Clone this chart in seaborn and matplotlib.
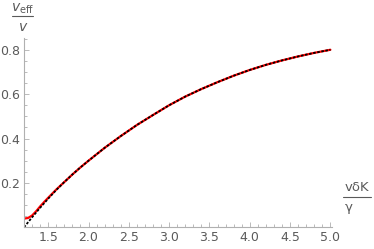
import numpy as np
import pandas as pd
import seaborn as sns
import matplotlib
matplotlib.use('Agg')
import matplotlib.pyplot as plt
from matplotlib.lines import Line2D
from matplotlib.ticker import MultipleLocator, FixedLocator

# values
x_approx = [1.2, 1.3, 1.4, 1.5, 1.6, 1.7, 1.8, 1.9, 2.0, 2.2, 2.4, 2.6, 2.8,
            3.0, 3.2, 3.4, 3.6, 3.8, 4.0, 4.2, 4.4, 4.6, 4.8, 5.0]
y_approx = [0.0, 0.045, 0.088, 0.129, 0.168, 0.204, 0.238, 0.27, 0.30, 0.358,
            0.411, 0.461, 0.506, 0.55, 0.589, 0.623, 0.654, 0.683, 0.709,
            0.732, 0.752, 0.770, 0.786, 0.80]

x_exact = [1.2, 1.25, 1.3, 1.35, 1.4, 1.45, 1.5, 1.6, 1.7, 1.8, 1.9, 2.0, 2.2,
           2.4, 2.6, 2.8, 3.0, 3.2, 3.4, 3.6, 3.8, 4.0, 4.2, 4.4, 4.6, 4.8, 5.0]
y_exact = [0.039, 0.042, 0.053, 0.072, 0.094, 0.114, 0.133, 0.170, 0.204, 0.238,
           0.27, 0.30, 0.358, 0.411, 0.461, 0.506, 0.55, 0.589, 0.623, 0.654,
           0.683, 0.709, 0.732, 0.752, 0.770, 0.786, 0.80]

df_exact = pd.DataFrame({'x': x_exact, 'y': y_exact})
df_approx = pd.DataFrame({'x': x_approx, 'y': y_approx})

sns.set_style('white')
plt.rcParams['font.family'] = ['DejaVu Sans']

W, H = 374, 249
fig = plt.figure(figsize=(W / 100, H / 100), dpi=100)
left, right, bottom, top = 24, 332, 227.3, 38
ax = fig.add_axes([left / W, 1 - bottom / H, (right - left) / W, (bottom - top) / H])

sns.lineplot(data=df_exact, x='x', y='y', color='red', lw=1.6, ax=ax)
sns.lineplot(data=df_approx, x='x', y='y', color='black', lw=1.3, ax=ax)
ax.lines[-1].set_linestyle((0, (1.4, 0.9)))
for ln in ax.lines:
    ln.set_solid_joinstyle('round')

ax.set_xlim(1.2, 5.02)
ax.set_ylim(0, 0.853)
ax.set_xlabel('')
ax.set_ylabel('')

gray = '#b0b0b0'
txt = '#5a5a5a'
for s in ['top', 'right']:
    ax.spines[s].set_visible(False)
for s in ['left', 'bottom']:
    ax.spines[s].set_color(gray)
    ax.spines[s].set_linewidth(0.8)

ax.xaxis.set_major_locator(MultipleLocator(0.5))
ax.xaxis.set_minor_locator(MultipleLocator(0.1))
ax.yaxis.set_major_locator(FixedLocator([0.2, 0.4, 0.6, 0.8]))
ax.yaxis.set_minor_locator(MultipleLocator(0.05))
ax.tick_params(which='both', direction='in', color=gray, width=0.6,
               labelsize=9, labelcolor=txt, pad=3)
ax.tick_params(which='major', length=3.5)
ax.tick_params(which='minor', length=2)
ax.tick_params(axis='x', which='both', bottom=True)
ax.tick_params(axis='y', which='both', left=True)

# axis labels as stacked fractions
def fx(px):
    return px / W

def fy(py):
    return 1 - py / H

fig.text(fx(23), fy(9), r'$v_{\mathrm{eff}}$', ha='center', va='center',
         fontsize=10, color=txt)
fig.add_artist(Line2D([fx(12), fx(33)], [fy(16), fy(16)], color=txt, lw=0.8))
fig.text(fx(23), fy(27), r'$v$', ha='center', va='center', fontsize=10, color=txt)

fig.text(fx(357), fy(187), 'vδK', ha='center', va='center', fontsize=9.5, color=txt)
fig.add_artist(Line2D([fx(343), fx(371)], [fy(197), fy(197)], color=txt, lw=0.8))
fig.text(fx(349), fy(207), 'γ', ha='center', va='center', fontsize=9.5, color=txt)

fig.savefig('out.png', dpi=100)
